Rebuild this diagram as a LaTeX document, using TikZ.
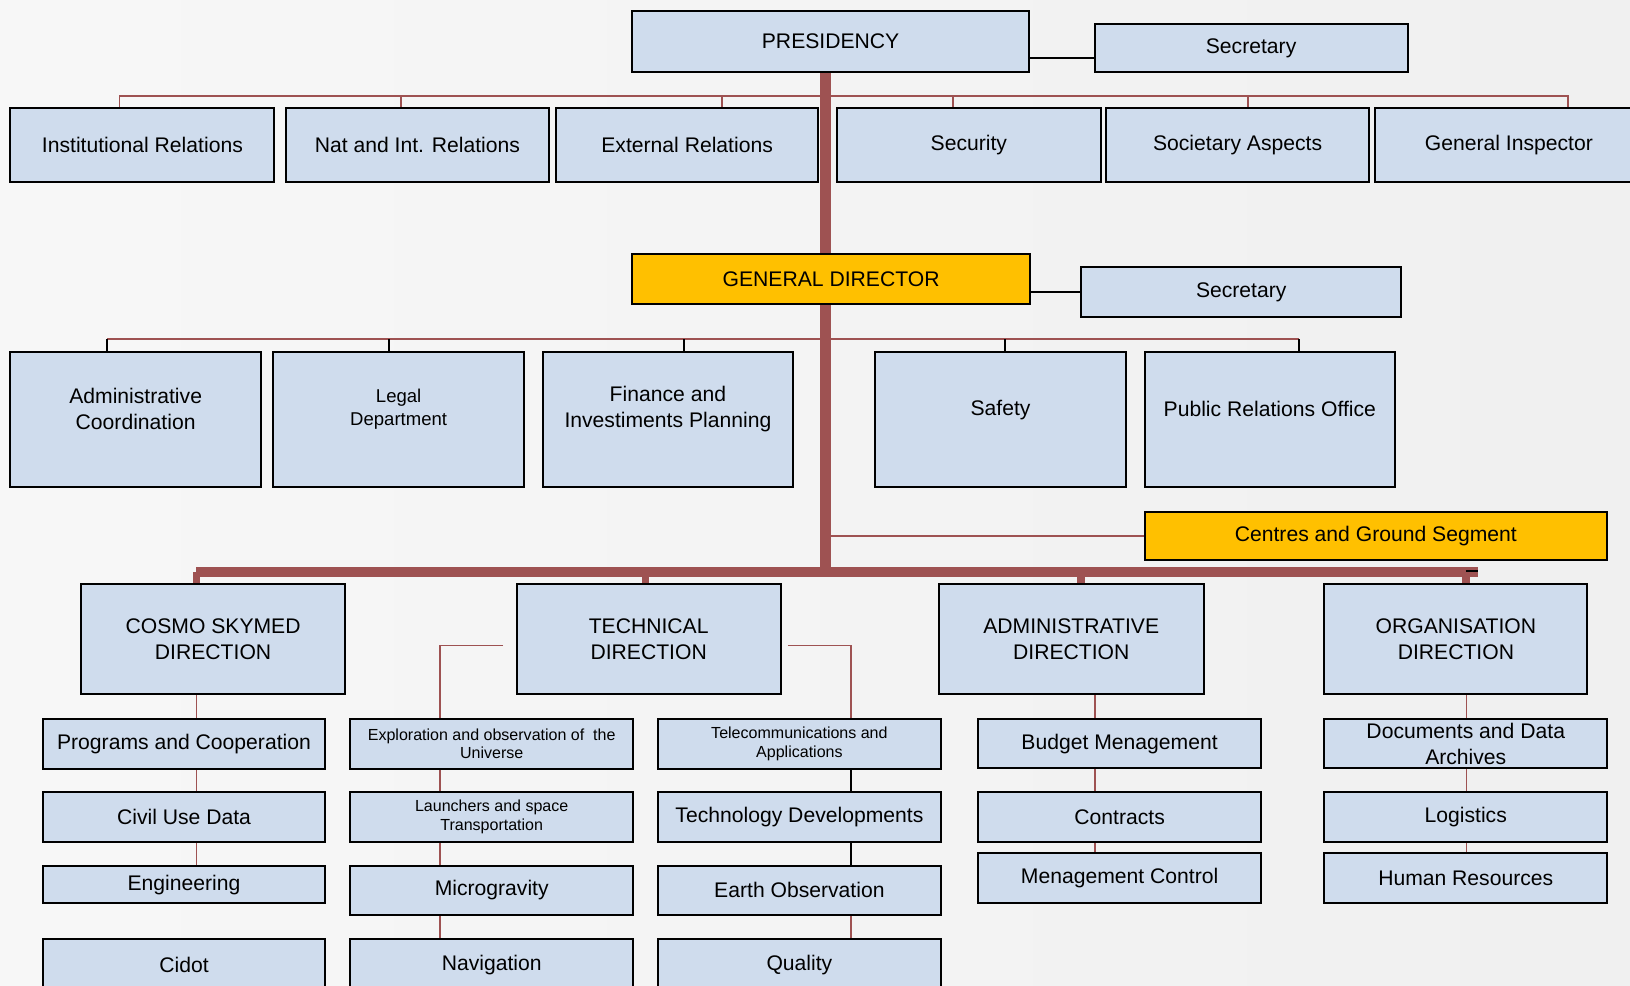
\documentclass[tikz,border=0pt]{standalone}
\usepackage{fontspec}
\setmainfont{Liberation Sans}
\usetikzlibrary{calc,positioning}
\definecolor{boxblue}{RGB}{207,220,237}
\definecolor{linkred}{RGB}{158,82,82}
\definecolor{gold}{RGB}{255,192,0}
\pgfdeclarelayer{bg}
\pgfdeclarelayer{lines}
\pgfsetlayers{bg,lines,main}
\tikzset{
  box/.style={draw=black, line width=1.15pt, fill=boxblue, inner sep=0pt, align=center,
    font=\fontsize{12.2}{15}\selectfont},
  goldbox/.style={box, fill=gold},
  sz/.style 2 args={minimum width=#1*0.6pt, minimum height=#2*0.6pt},
  smalltext/.style={font=\fontsize{9.25}{10.8}\selectfont},
  uptext/.style={align=center, yshift=6.3pt, font=\fontsize{12.2}{15}\selectfont},
  link/.style={draw=linkred, line width=1pt},
  blink/.style={draw=black, line width=1.1pt},
  trunk/.style={draw=linkred, line width=6.7pt},
  bus/.style={draw=linkred, line width=5.8pt},
  drop/.style={draw=linkred, line width=4.4pt}
}
\begin{document}
\begin{tikzpicture}[x=0.6pt, y=-0.6pt]
  \useasboundingbox (0,0) rectangle (1568,948);
  \begin{pgfonlayer}{bg}
    \shade[left color=black!3, middle color=white, right color=black!6] (0,0) rectangle (1568,948);
  \end{pgfonlayer}

  % presidency
  \node[box, sz={382}{58}] (pres) at (799,40) {PRESIDENCY};
  \node[box, sz={301}{46}] (secpres) at (1203.5,46) {Secretary};
  \node[box, sz={254}{71}] (inst) at (137,139.5) {Institutional Relations};
  \node[box, sz={253}{71}] (natint) at (401.5,139.5) {Nat and Int. Relations};
  \node[box, sz={252}{71}] (extrel) at (661,139.5) {External Relations};
  \node[box, sz={254}{71}] (secur) at (932,139.5) {Security};
  \node[box, sz={253}{71}] (soc) at (1190.5,139.5) {Societary Aspects};
  \node[box, sz={257}{71}] (geninsp) at (1451.5,139.5) {General Inspector};

  % general director
  \node[goldbox, sz={383}{47.5}] (gendir) at (799.5,268.25) {GENERAL DIRECTOR};
  \node[box, sz={308}{47.5}] (secdir) at (1194,280.75) {Secretary};
  \node[box, sz={241}{129}, label={[uptext]center:{Administrative\\Coordination}}] (admco) at (130.5,403.5) {};
  \node[box, sz={241}{129}, label={[uptext, yshift=-0.6pt, font=\fontsize{10.7}{13.2}\selectfont]center:{Legal\\Department}}] (legal) at (383.5,403.5) {};
  \node[box, sz={241}{129}, label={[uptext]center:{Finance and\\Investiments Planning}}] (finplan) at (642.5,403.5) {};
  \node[box, sz={241}{129}, label={[uptext, yshift=-1pt]center:{Safety}}] (safety) at (962.5,403.5) {};
  \node[box, sz={241}{129}, label={[uptext]center:{Public Relations Office}}] (pro) at (1221.5,403.5) {};
  \node[goldbox, sz={445}{46.5}] (cgs) at (1323.5,515.75) {Centres and Ground Segment};

  % directions
  \node[box, sz={254}{106}] (cosmo) at (205,615) {COSMO SKYMED\\DIRECTION};
  \node[box, sz={254}{106}] (techdir) at (624,615) {TECHNICAL\\DIRECTION};
  \node[box, sz={255}{106}] (admdir) at (1030.5,615) {ADMINISTRATIVE\\DIRECTION};
  \node[box, sz={253}{106}] (orgdir) at (1400.5,615) {ORGANISATION\\DIRECTION};

  \node[box, sz={272}{47.8}] (progcoop) at (177,715.6) {Programs and Cooperation};
  \node[box, sz={272}{47.8}] (civil) at (177,786.1) {Civil Use Data};
  \node[box, sz={272}{36.2}] (engin) at (177,850.9) {Engineering};
  \node[box, sz={272}{50}] (cidot) at (177,928.3) {Cidot};

  \node[box, smalltext, sz={272}{47.8}] (explo) at (473,715.6) {Exploration and observation of~ the\\Universe};
  \node[box, smalltext, sz={272}{47.8}] (launch) at (473,786.1) {Launchers and space\\Transportation};
  \node[box, sz={272}{47.4}] (micro) at (473,856.5) {Microgravity};
  \node[box, sz={272}{50}] (navig) at (473,928.3) {Navigation};

  \node[box, smalltext, sz={272}{47.8}] (telecom) at (769,715.6) {Telecommunications and\\Applications};
  \node[box, sz={272}{47.8}] (techdev) at (769,786.1) {Technology Developments};
  \node[box, sz={272}{47.4}] (earthobs) at (769,856.5) {Earth Observation};
  \node[box, sz={272}{50}] (quality) at (769,928.3) {Quality};

  \node[box, sz={272}{47.3}] (budget) at (1077,715.35) {Budget Menagement};
  \node[box, sz={272}{47.8}] (contracts) at (1077,786.1) {Contracts};
  \node[box, sz={272}{47.5}] (mgmt) at (1077,844.65) {Menagement Control};

  \node[box, sz={272}{47.3}] (docs) at (1410,715.35) {Documents and Data\\Archives};
  \node[box, sz={272}{47.8}] (logist) at (1410,786.1) {Logistics};
  \node[box, sz={272}{47.5}] (hres) at (1410,844.65) {Human Resources};

  \coordinate (tk) at (794,0);
  \coordinate (busl) at (189,550.5);
  \coordinate (busr) at (1422,550.5);
  \coordinate (tl) at (423.5,621);
  \coordinate (tr) at (818.5,621);
  \coordinate (ad) at (1053,0);
  \coordinate (og) at (1410.7,0);

  \begin{pgfonlayer}{lines}
    \draw[link] ([shift={(-22,0)}]inst.north) -- ++(0,-11) -| ([shift={(57,0)}]geninsp.north);
    \draw[link] ([shift={(-15.5,0)}]natint.north) -- ++(0,-11);
    \draw[link] ([shift={(33.5,0)}]extrel.north) -- ++(0,-11);
    \draw[link] ([shift={(-15,0)}]secur.north) -- ++(0,-11);
    \draw[link] ([shift={(10,0)}]soc.north) -- ++(0,-11);

    \draw[link] ([shift={(-27.5,-12)}]admco.north) -- ([shift={(28,-12)}]pro.north);
    \draw[blink] ([shift={(-27.5,0)}]admco.north) -- ++(0,-12);
    \draw[blink] ([shift={(-9.5,0)}]legal.north) -- ++(0,-12);
    \draw[blink] ([shift={(15.5,0)}]finplan.north) -- ++(0,-12);
    \draw[blink] ([shift={(4,0)}]safety.north) -- ++(0,-12);
    \draw[blink] ([shift={(28,0)}]pro.north) -- ++(0,-12);

    \draw[blink] ([shift={(0,10)}]secpres.west) -- ([shift={(0,10)}]secpres.west -| pres.east);
    \draw[blink] (secdir.west) -- (secdir.west -| gendir.east);
    \draw[link] (cgs.west) -- (cgs.west -| tk);

    \draw[trunk] (pres.south -| tk) -- ([shift={(0,3)}]tk |- busl);
    \draw[bus] (busl) -- (busr);
    \draw[blink] ([shift={(-12,-1.5)}]busr) -- ([shift={(0,-1.5)}]busr);
    \draw[drop] (busl) -- (busl |- cosmo.north);
    \draw[drop] ([shift={(-3,0)}]techdir.north) -- ([shift={(-3,0)}]techdir.north |- busl);
    \draw[drop] ([shift={(9.5,0)}]admdir.north) -- ([shift={(9.5,0)}]admdir.north |- busl);
    \draw[drop] ([shift={(9.5,0)}]orgdir.north) -- ([shift={(9.5,0)}]orgdir.north |- busl);

    \draw[link] (cosmo.south -| busl) -- (progcoop.north -| busl);
    \draw[link] (progcoop.south -| busl) -- (civil.north -| busl);
    \draw[link] (civil.south -| busl) -- (engin.north -| busl);

    \draw[link] ([shift={(-12,6)}]techdir.west) -| (explo.north -| tl);
    \draw[link] (explo.south -| tl) -- (launch.north -| tl);
    \draw[link] (launch.south -| tl) -- (micro.north -| tl);
    \draw[link] (micro.south -| tl) -- (navig.north -| tl);

    \draw[link] ([shift={(6,6)}]techdir.east) -| (telecom.north -| tr);
    \draw[blink] (telecom.south -| tr) -- (techdev.north -| tr);
    \draw[blink] (techdev.south -| tr) -- (earthobs.north -| tr);
    \draw[link] (earthobs.south -| tr) -- (quality.north -| tr);

    \draw[link] (admdir.south -| ad) -- (budget.north -| ad);
    \draw[link] (budget.south -| ad) -- (contracts.north -| ad);
    \draw[link] (contracts.south -| ad) -- (mgmt.north -| ad);

    \draw[link] (orgdir.south -| og) -- (docs.north -| og);
    \draw[link] (docs.south -| og) -- (logist.north -| og);
    \draw[link] (logist.south -| og) -- (hres.north -| og);
  \end{pgfonlayer}
\end{tikzpicture}
\end{document}
